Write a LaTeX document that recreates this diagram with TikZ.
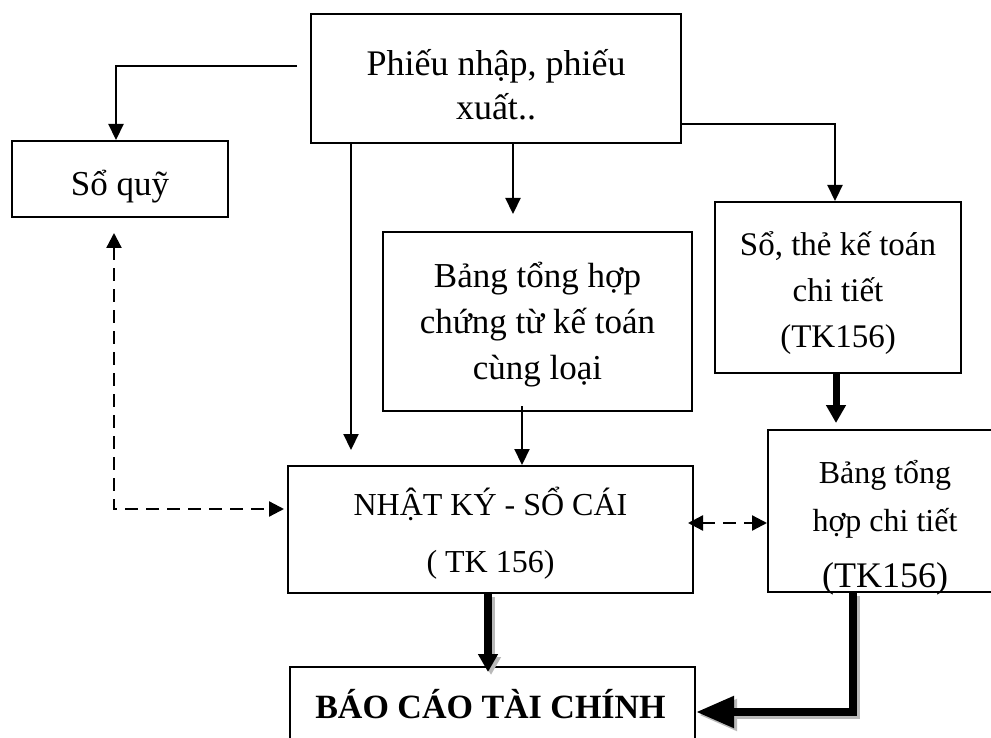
\documentclass[tikz,border=0pt]{standalone}
\usepackage{fontspec}
\setmainfont{Liberation Serif}
\usetikzlibrary{arrows.meta}
\begin{document}
\begin{tikzpicture}[x=1pt,y=-1pt,
  box/.style={draw, line width=2pt, inner sep=0pt},
  txt/.style={inner sep=0pt, align=center},
  thinarr/.style={line width=2.2pt, -{Triangle[length=16pt,width=15pt]}},
  dsharr/.style={line width=2.3pt, dash pattern=on 13pt off 8pt, {Triangle[length=15pt,width=15pt]}-{Triangle[length=15pt,width=15pt]}},
  thickarr/.style={line width=7.5pt, -{Triangle[length=18pt,width=19pt]}},
  bigarr/.style={line width=8pt, -{Triangle[length=38pt,width=30pt]}},
  shadowcopy/.style={gray!55, transform canvas={shift={(3,3)}}}
]
\clip (0,0) rectangle (991,738);
\fill[white] (0,0) rectangle (991,738);

% boxes
\node[box, minimum width=370pt, minimum height=129pt] (top) at (496,78.5) {};
\node[box, minimum width=216pt, minimum height=76pt] (soquy) at (120,179) {};
\node[box, minimum width=309pt, minimum height=179pt] (bth) at (537.5,321.5) {};
\node[box, minimum width=246pt, minimum height=171pt] (sct) at (838,287.5) {};
\node[box, minimum width=405pt, minimum height=127pt] (nksc) at (490.5,529.5) {};
\node[box, minimum width=234pt, minimum height=162pt] (bthct) at (885,511) {};
\node[box, minimum width=405pt, minimum height=74pt] (bctc) at (492.5,704) {};

% texts
\node[txt, font=\fontsize{36}{44}\selectfont] (toptxt) at ([yshift=-6pt]top.center) {Phiếu nhập, phiếu\\xuất..};
\node[txt, font=\fontsize{35}{44}\selectfont] (soquytxt) at ([yshift=-8pt]soquy.center) {Sổ quỹ};
\node[txt, font=\fontsize{35}{46}\selectfont] (bthtxt) at ([yshift=-3pt]bth.center) {Bảng tổng hợp\\chứng từ kế toán\\cùng loại};
\node[txt, font=\fontsize{33}{46}\selectfont] (scttxt) at ([yshift=-6pt]sct.center) {Sổ, thẻ kế toán\\chi tiết\\(TK156)};
\node[txt, font=\fontsize{32}{57}\selectfont] (nksctxt) at ([yshift=-4pt]nksc.center) {NHẬT KÝ - SỔ CÁI\\( TK 156)};
\node[txt, font=\fontsize{32}{48}\selectfont] (bthcttxt) at ([yshift=-17pt]bthct.center) {Bảng tổng\\hợp chi tiết\\[8pt]{\fontsize{36}{48}\selectfont(TK156)}};
\node[txt, font=\fontsize{34}{44}\selectfont\bfseries] (bctctxt) at ([xshift=-2pt]bctc.center) {BÁO CÁO TÀI CHÍNH};

\coordinate (ya) at (0,66);
\coordinate (xa) at (116,0);
\coordinate (xb) at (351,0);
\coordinate (xc) at (513,0);
\coordinate (xd) at (522,0);
\coordinate (yb) at (0,124);
\coordinate (xe) at (835,0);
\coordinate (xf) at (836,0);
\coordinate (xg) at (114,0);
\coordinate (yc) at (0,509);
\coordinate (yd) at (0,523);
\coordinate (xh) at (488,0);
\coordinate (xi) at (853,0);
\coordinate (ye) at (0,712);

% solid thin connectors
\draw[thinarr, shorten <=13pt] (top.west |- ya) -| (soquy.north -| xa);
\draw[thinarr, shorten >=15pt] (top.south -| xb) -- (nksc.north -| xb);
\draw[thinarr, shorten >=17pt] (top.south -| xc) -- (bth.north -| xc);
\draw[thinarr, shorten <=-6pt] (bth.south -| xd) -- (nksc.north -| xd);
\draw[thinarr] (top.east |- yb) -| (sct.north -| xe);

% dashed connectors
\draw[dsharr, shorten <=15pt, shorten >=3pt] (soquy.south -| xg) |- (nksc.west |- yc);
\draw[dsharr, shorten <=-6pt] (nksc.east |- yd) -- (bthct.west |- yd);

% thick connectors
\draw[thickarr, line width=7pt, shorten >=6pt] (sct.south -| xf) -- (bthct.north -| xf);
\draw[thickarr, shadowcopy, shorten >=-6pt] (nksc.south -| xh) -- (bctc.north -| xh);
\draw[thickarr, shorten >=-6pt] (nksc.south -| xh) -- (bctc.north -| xh);
\draw[bigarr, shadowcopy] (bthct.south -| xi) |- (bctc.east |- ye);
\draw[bigarr] (bthct.south -| xi) |- (bctc.east |- ye);
\end{tikzpicture}
\end{document}
